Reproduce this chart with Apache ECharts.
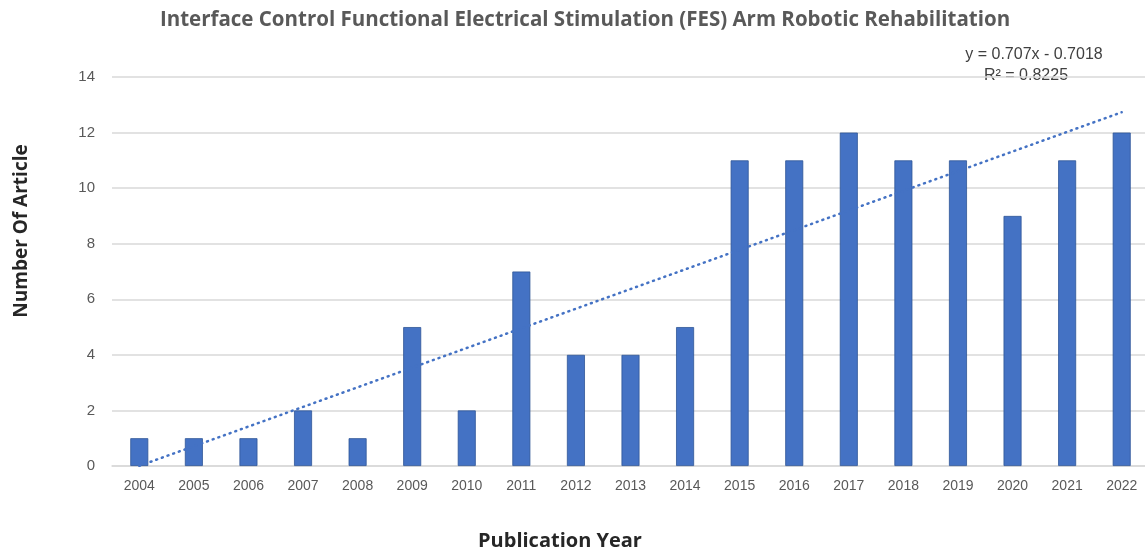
<!DOCTYPE html>
<html>
<head>
<meta charset="utf-8">
<script src="https://cdn.jsdelivr.net/npm/echarts@6/dist/echarts.min.js"></script>
<style>
  html, body { margin: 0; padding: 0; background: #fff; }
  #chart { width: 1145px; height: 552px; }
</style>
</head>
<body>
<div id="chart"></div>
<script>
const years = ['2004', '2005', '2006', '2007', '2008', '2009', '2010', '2011', '2012', '2013',
  '2014', '2015', '2016', '2017', '2018', '2019', '2020', '2021', '2022'];
const articles = [1, 1, 1, 2, 1, 5, 2, 7, 4, 4, 5, 11, 11, 12, 11, 11, 9, 11, 12];
// linear trend endpoints (first and last year), as shown by the fitted line
const trendEnds = [0.0052, 12.7312];
const yTicks = [0, 14, 2];

const chart = echarts.init(document.getElementById('chart'));

const trendData = years.map((y, i) => {
  if (i === 0) return trendEnds[0];
  if (i === years.length - 1) return trendEnds[1];
  return null;
});

const option = {
  backgroundColor: '#ffffff',
  animation: false,
  title: {
    text: 'Interface Control Functional Electrical Stimulation (FES) Arm Robotic Rehabilitation',
    left: 580,
    textAlign: 'center',
    top: 5,
    textStyle: { fontFamily: 'Open Sans', fontWeight: 'bold', fontSize: 20.5, color: '#595959' }
  },
  grid: { left: 112, top: 77, width: 1037, height: 389, outerBoundsMode: 'none', containLabel: false },
  xAxis: {
    type: 'category',
    data: years,
    axisLine: { lineStyle: { color: '#d9d9d9', width: 1.5 } },
    axisTick: { show: false },
    axisLabel: { fontFamily: 'Liberation Sans', fontSize: 14, color: '#595959', margin: 13 }
  },
  yAxis: {
    type: 'value',
    min: yTicks[0],
    max: yTicks[1],
    interval: yTicks[2],
    axisLine: { show: false },
    axisTick: { show: false },
    axisLabel: { fontFamily: 'Liberation Sans', fontSize: 15, color: '#595959', margin: 17 },
    splitLine: { lineStyle: { color: '#d9d9d9', width: 1.5 } }
  },
  series: [
    {
      name: 'Articles',
      type: 'bar',
      data: articles,
      barWidth: 18,
      itemStyle: { color: '#4472c4', borderColor: '#2f5597', borderWidth: 0.8 }
    },
    {
      name: 'Trend',
      type: 'line',
      data: trendData,
      connectNulls: true,
      symbol: 'none',
      z: 5,
      lineStyle: { color: '#4472c4', width: 2.5, type: [1, 5], cap: 'round' }
    }
  ],
  graphic: [
    {
      type: 'text',
      x: 560,
      y: 541,
      style: { text: 'Publication Year', font: 'bold 20px "Open Sans"', fill: '#262626', align: 'center', verticalAlign: 'middle' }
    },
    {
      type: 'text',
      x: 22,
      y: 231,
      rotation: Math.PI / 2,
      style: { text: 'Number Of Article', font: 'bold 19px "Open Sans"', fill: '#262626', align: 'center', verticalAlign: 'middle' }
    },
    {
      type: 'text',
      x: 1034,
      y: 55,
      style: { text: 'y = 0.707x - 0.7018', font: '16px "Liberation Sans"', fill: '#404040', align: 'center', verticalAlign: 'middle' }
    },
    {
      type: 'text',
      x: 1026,
      y: 76,
      style: { text: 'R² = 0.8225', font: '16px "Liberation Sans"', fill: '#404040', align: 'center', verticalAlign: 'middle' }
    }
  ]
};

chart.setOption(option);
</script>
</body>
</html>
